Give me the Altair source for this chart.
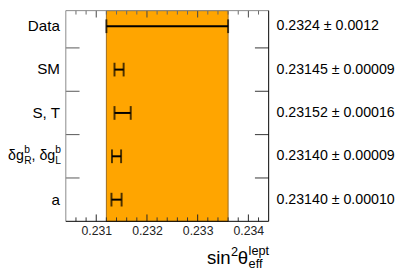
import altair as alt
import pandas as pd

# ---- data ----
categories = ["Data", "SM", "S, T", "dg", "a"]
centers = [0.2324, 0.23145, 0.23152, 0.23140, 0.23140]
errors = [0.0012, 0.00009, 0.00016, 0.00009, 0.00010]
value_labels = ["0.2324 \u00b1 0.0012", "0.23145 \u00b1 0.00009", "0.23152 \u00b1 0.00016",
                "0.23140 \u00b1 0.00009", "0.23140 \u00b1 0.00010"]
left_labels = ["Data", "SM", "S, T", "", "a"]
major_ticks = [0.231, 0.232, 0.233, 0.234]
minor_ticks = [0.2306, 0.2308, 0.2312, 0.2314, 0.2316, 0.2318, 0.2322, 0.2324,
               0.2326, 0.2328, 0.2332, 0.2334, 0.2336, 0.2338, 0.2342]
row_edges = [0.5, 1.5, 2.5, 3.5]
x_domain = [0.2304, 0.2344]

FONT = "Liberation Sans"
W, H = 207, 215

df = pd.DataFrame({
    "idx": list(range(len(categories))),
    "cat": categories,
    "center": centers,
    "err": errors,
    "label": value_labels,
    "left": left_labels,
})
df["lo"] = df["center"] - df["err"]
df["hi"] = df["center"] + df["err"]

x_scale = alt.Scale(domain=x_domain, nice=False, zero=False)
y_scale = alt.Scale(domain=[-0.36, 4.5], reverse=True, nice=False, zero=False)

one = pd.DataFrame({"a": [0]})
major_df = pd.DataFrame({"t": major_ticks})
minor_df = pd.DataFrame({"t": minor_ticks})
edge_df = pd.DataFrame({"e": row_edges})

band = alt.Chart(df.iloc[[0]]).mark_rect(color="#FFA500", stroke="#9C6A1E", strokeWidth=1).encode(
    x=alt.X("lo:Q", scale=x_scale, title=None,
            axis=alt.Axis(values=major_ticks, format=".3f", ticks=False, domain=False, grid=False,
                          labelFontSize=12.5, labelPadding=3, labelColor="#222", labelFont=FONT)),
    x2="hi:Q",
    y=alt.value(0), y2=alt.value(H),
)

bars = alt.Chart(df).mark_rule(color="black", strokeWidth=2).encode(
    x=alt.X("lo:Q", scale=x_scale), x2="hi:Q",
    y=alt.Y("idx:Q", scale=y_scale, axis=None),
)
cap_lo = alt.Chart(df).mark_tick(orient="vertical", size=14, thickness=2, color="black").encode(
    x=alt.X("lo:Q", scale=x_scale), y=alt.Y("idx:Q", scale=y_scale, axis=None))
cap_hi = alt.Chart(df).mark_tick(orient="vertical", size=14, thickness=2, color="black").encode(
    x=alt.X("hi:Q", scale=x_scale), y=alt.Y("idx:Q", scale=y_scale, axis=None))

right_text = alt.Chart(df).mark_text(align="left", baseline="middle", fontSize=14.5, font=FONT,
                                      color="black").encode(
    x=alt.value(W + 8), y=alt.Y("idx:Q", scale=y_scale, axis=None), text="label:N")

left_text = alt.Chart(df).mark_text(align="right", baseline="middle", fontSize=15.5, font=FONT,
                                     color="black").encode(
    x=alt.value(-6), y=alt.Y("idx:Q", scale=y_scale, axis=None), text="left:N")

# pieces of the delta-g label (with sub/superscripts)
dg_df = df[df["cat"] == "dg"]
pieces = [("\u03b4g", -59, 0, 14.5), ("b", -42.5, -6, 10.5), ("R", -42.5, 5, 10.5),
          (", \u03b4g", -35, 0, 14.5), ("b", -10.8, -6, 10.5), ("L", -10.8, 5, 10.5)]
dg_layers = []
for txt, px, dy, fs in pieces:
    dg_layers.append(alt.Chart(dg_df).mark_text(align="left", baseline="middle", fontSize=fs, font=FONT,
                                                 dy=dy, text=txt, color="black").encode(
        x=alt.value(px), y=alt.Y("idx:Q", scale=y_scale, axis=None)))

# frame
frame_left = alt.Chart(one).mark_rule(color="#888", strokeWidth=1).encode(
    x=alt.value(0), y=alt.value(0), y2=alt.value(H))
frame_top = alt.Chart(one).mark_rule(color="#888", strokeWidth=1).encode(
    x=alt.value(0), x2=alt.value(W), y=alt.value(0))
frame_right = alt.Chart(one).mark_rule(color="black", strokeWidth=1).encode(
    x=alt.value(W), y=alt.value(0), y2=alt.value(H))
frame_bottom = alt.Chart(one).mark_rule(color="black", strokeWidth=1).encode(
    x=alt.value(0), x2=alt.value(W), y=alt.value(H))

# inward ticks
top_major = alt.Chart(major_df).mark_rule(color="#444").encode(
    x=alt.X("t:Q", scale=x_scale), y=alt.value(0), y2=alt.value(7))
top_minor = alt.Chart(minor_df).mark_rule(color="#666").encode(
    x=alt.X("t:Q", scale=x_scale), y=alt.value(0), y2=alt.value(4))
bot_major = alt.Chart(major_df).mark_rule(color="#222").encode(
    x=alt.X("t:Q", scale=x_scale), y=alt.value(H - 7), y2=alt.value(H))
bot_minor = alt.Chart(minor_df).mark_rule(color="#333").encode(
    x=alt.X("t:Q", scale=x_scale), y=alt.value(H - 4), y2=alt.value(H))
left_edges = alt.Chart(edge_df).mark_rule(color="#555").encode(
    x=alt.value(0), x2=alt.value(14), y=alt.Y("e:Q", scale=y_scale, axis=None))
right_edges = alt.Chart(edge_df).mark_rule(color="#333").encode(
    x=alt.value(W - 14), x2=alt.value(W), y=alt.Y("e:Q", scale=y_scale, axis=None))

# x-axis title: sin^2 theta_eff^lept
title_pieces = [("sin", 144, 259, 19), ("2", 168.5, 250, 13), ("\u03b8", 175.5, 259, 19),
                ("lept", 186.5, 249, 13), ("eff", 186.5, 263, 13)]
title_layers = []
for txt, px, py, fs in title_pieces:
    title_layers.append(alt.Chart(one).mark_text(align="left", baseline="alphabetic", fontSize=fs,
                                                  font=FONT, text=txt, color="black").encode(
        x=alt.value(px), y=alt.value(py)))

chart = alt.layer(
    band, bars, cap_lo, cap_hi, right_text, left_text, *dg_layers,
    top_major, top_minor, bot_major, bot_minor, left_edges, right_edges,
    frame_left, frame_top, frame_right, frame_bottom, *title_layers,
).properties(
    width=W, height=H,
    autosize=alt.AutoSizeParams(type="none"),
    padding={"left": 59, "top": 0, "right": 133, "bottom": 48},
).configure_view(stroke=None)

chart.save("out.html", embed_options={"renderer": "svg", "actions": False})
